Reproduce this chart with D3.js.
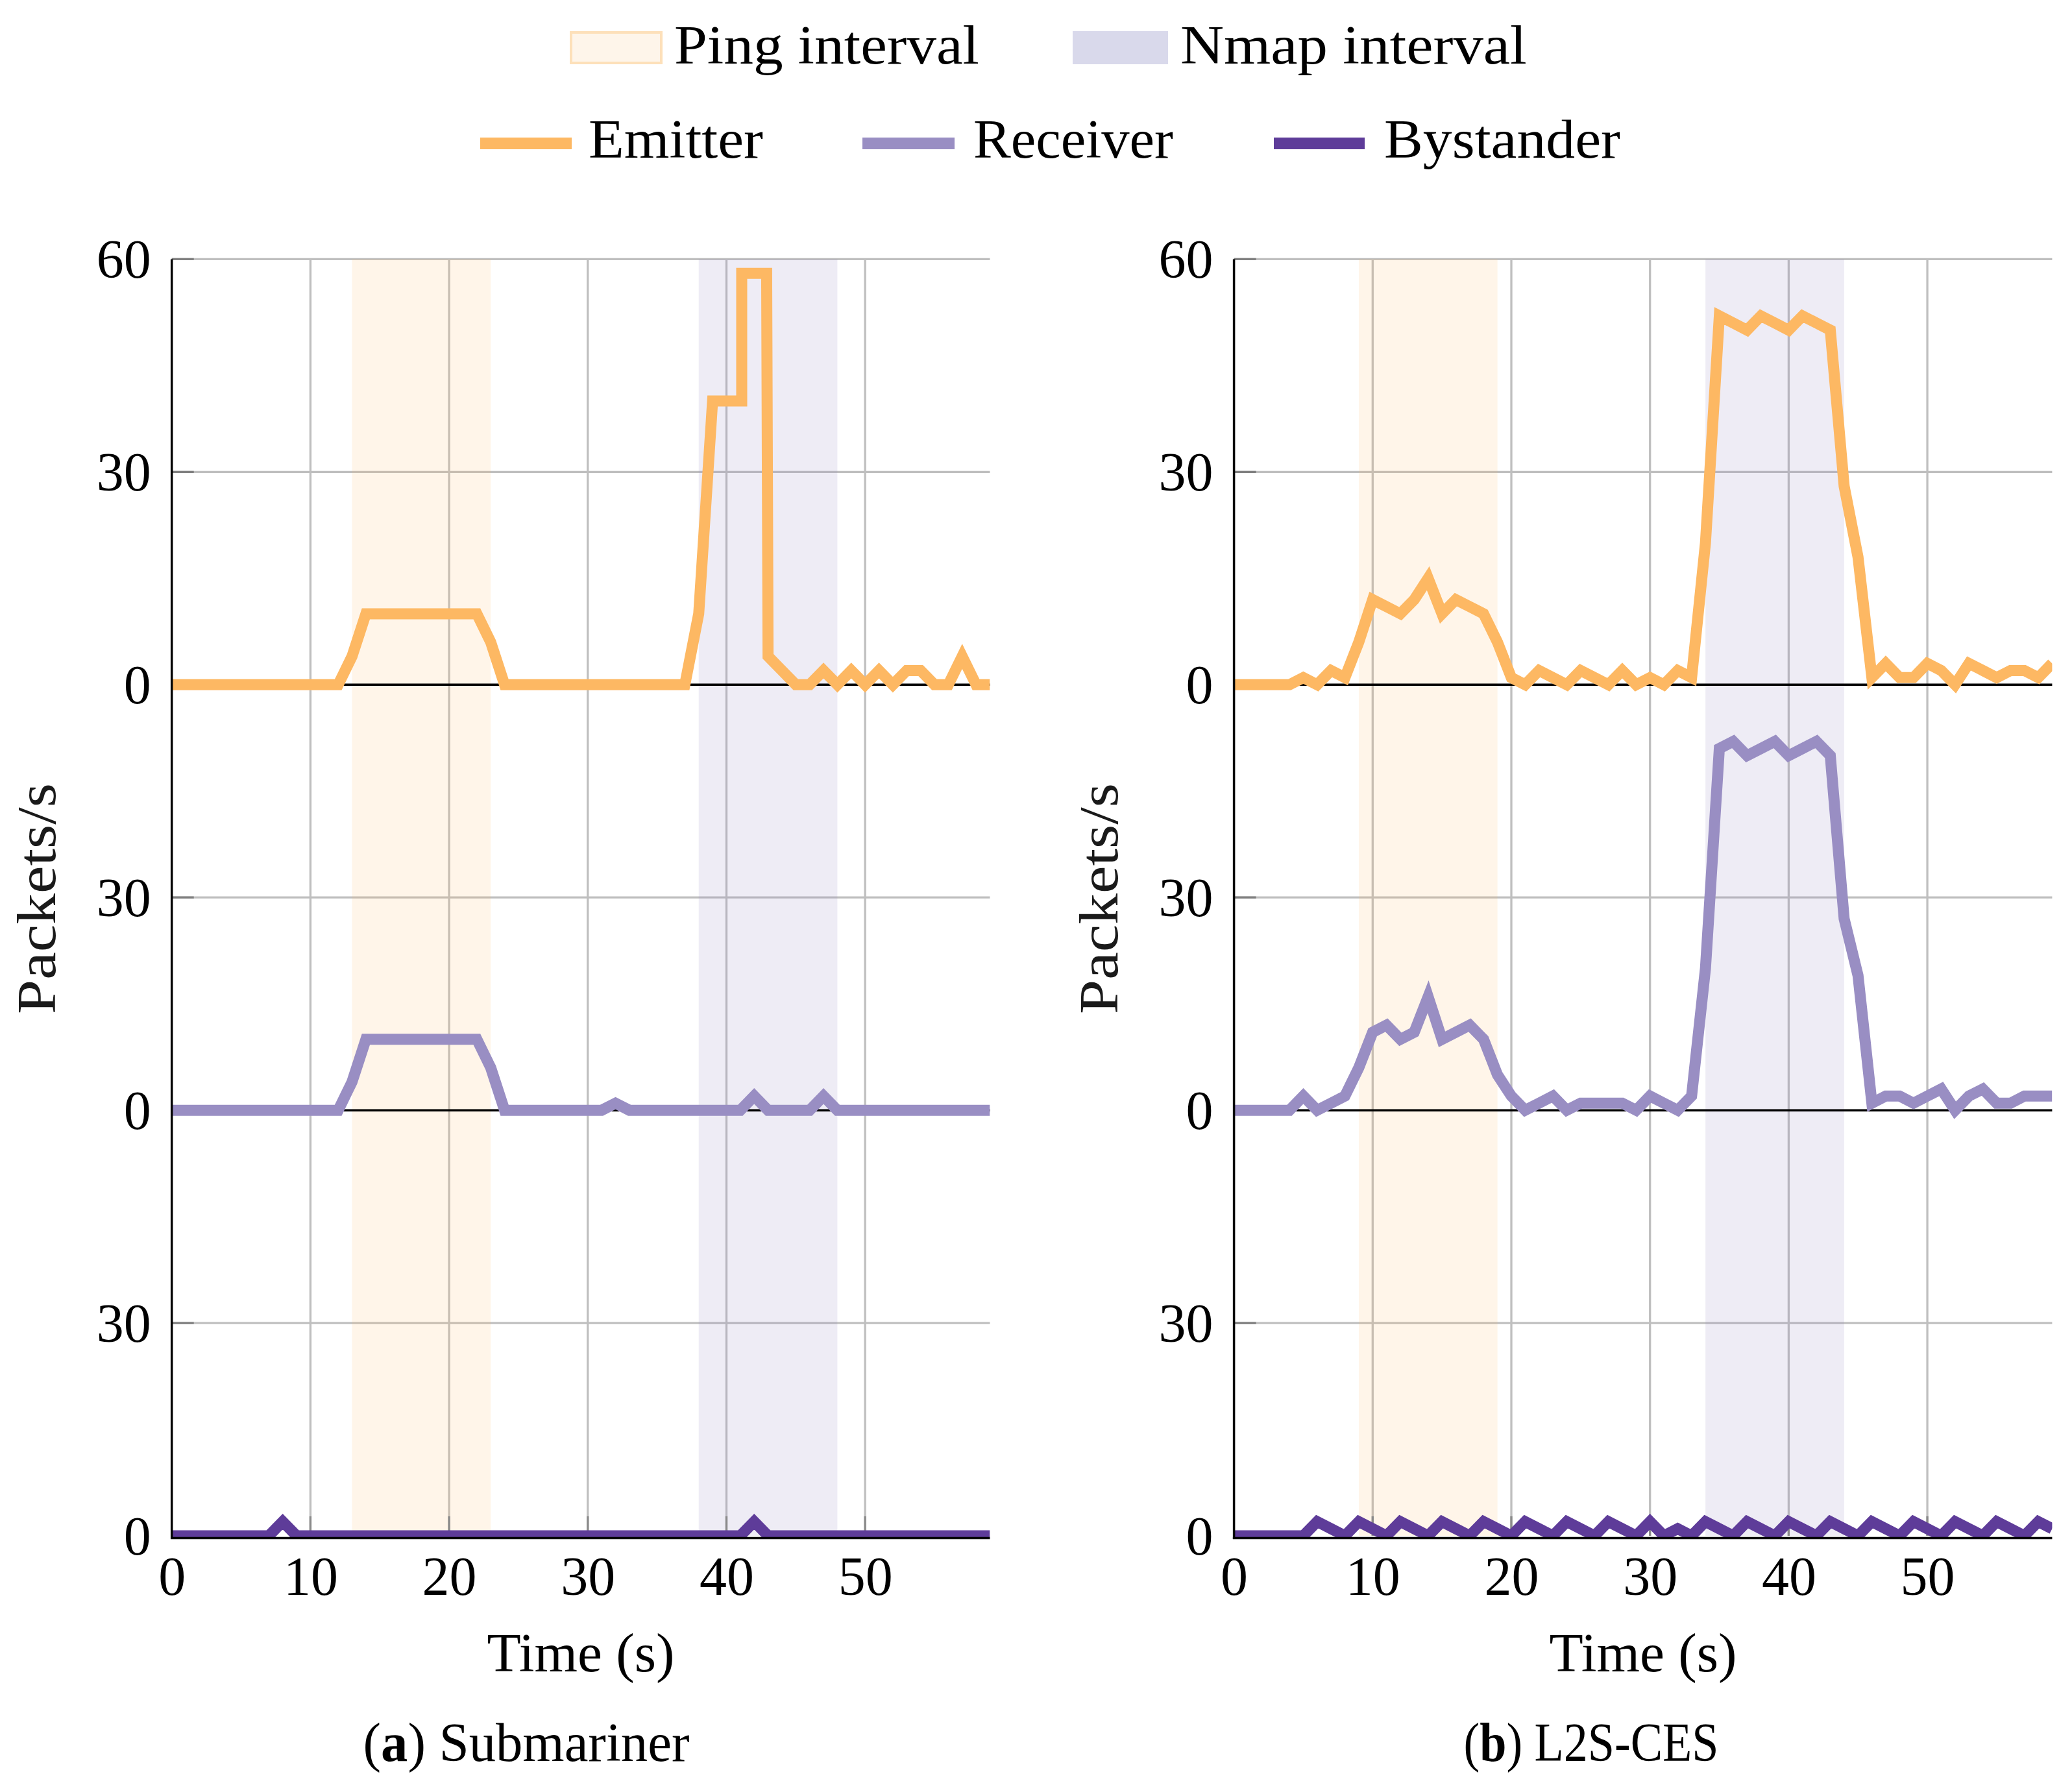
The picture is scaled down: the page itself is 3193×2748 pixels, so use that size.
<!DOCTYPE html>
<html><head><meta charset="utf-8">
<script src="https://cdn.jsdelivr.net/npm/d3@7/dist/d3.min.js"></script>
<style>body{margin:0;background:#fff}svg{display:block}</style>
</head><body>
<svg id="chart" width="3193" height="2748"></svg>
<script>
// ---------------- data ----------------
const seconds = [0,1,2,3,4,5,6,7,8,9,10,11,12,13,14,15,16,17,18,19,20,21,22,23,24,25,26,27,28,29,
                 30,31,32,33,34,35,36,37,38,39,40,41,42,43,44,45,46,47,48,49,50,51,52,53,54,55,56,57,58,59];

// (a) Submariner
const emitterATimes = [0,1,2,3,4,5,6,7,8,9,10,11,12,13,14,15,16,17,18,19,20,21,22,23,24,25,26,27,28,29,
                       30,31,32,33,34,35,36,37,38,39,40,41.1,41.1,42.9,43,44,45,46,47,48,49,50,51,52,53,54,55,56,57,58,59];
const emitterAValues = [0,0,0,0,0,0,0,0,0,0,0,0,0,4,10,10,10,10,10,10,10,10,10,6,0,0,0,0,0,0,
                        0,0,0,0,0,0,0,0,10,40,40,40,58,58,4,2,0,0,2,0,2,0,2,0,2,2,0,0,4,0,0];
const receiverAValues = [0,0,0,0,0,0,0,0,0,0,0,0,0,4,10,10,10,10,10,10,10,10,10,6,0,0,0,0,0,0,
                         0,0,1,0,0,0,0,0,0,0,0,0,2,0,0,0,0,2,0,0,0,0,0,0,0,0,0,0,0,0];
const bystanderAValues = [0,0,0,0,0,0,0,0,2,0,0,0,0,0,0,0,0,0,0,0,0,0,0,0,0,0,0,0,0,0,
                          0,0,0,0,0,0,0,0,0,0,0,0,2,0,0,0,0,0,0,0,0,0,0,0,0,0,0,0,0,0];
const pingA = [13, 23];
const nmapA = [38, 48];

// (b) L2S-CES
const emitterBValues = [0,0,0,0,0,1,0,2,1,6, 12,11,10,12,15,10,12,11,10,6, 1,0,2,1,0,2,1,0,2,0,
                        1,0,2,1,20,52,51,50,52,51, 50,52,51,50,28,18,1,3,1,1, 3,2,0,3,2,1,2,2,1,3];
const receiverBValues = [0,0,0,0,0,2,0,1,2,6, 11,12,10,11,16,10,11,12,10,5, 2,0,1,2,0,1,1,1,1,0,
                         2,1,0,2,20,51,52,50,51,52, 50,51,52,50,27,19,1,2,2,1, 2,3,0,2,3,1,1,2,2,2];
const bystanderBValues = [0,0,0,0,0,0,2,1,0,2, 1,0,2,1,0,2,1,0,2,1, 0,2,1,0,2,1,0,2,1,0,
                          2,0,1,0,2,1,0,2,1,0, 2,1,0,2,1,0,2,1,0,2, 1,0,2,1,0,2,1,0,2,1];
const pingB = [9, 19];
const nmapB = [34, 44];

const seriesNames = ["Emitter", "Receiver", "Bystander"];
const seriesOffsets = [120, 60, 0];           // stacked bands of 60 packets/s
const yTickValues = [0, 30, 60, 90, 120, 150, 180];
const yTickLabels = ["0", "30", "0", "30", "0", "30", "60"];
const xTickValues = [0, 10, 20, 30, 40, 50];
const intervalNames = ["Ping interval", "Nmap interval"];
const captions = [["a", "Submariner"], ["b", "L2S-CES"]];

// ---------------- styles ----------------
const colors = ["#fdb863", "#998ec3", "#5e3c99"];
const pingColor = "#fdb863", nmapColor = "#998ec3";
const FONT = "'Liberation Serif','Times New Roman',serif";
const FS = 84;

const svg = d3.select("#chart");
svg.append("rect").attr("width", 3193).attr("height", 2748).attr("fill", "#fff");

const yTop = 399.4, yBot = 2367;
const y = d3.scaleLinear().domain([0, 180]).range([yBot, yTop]);

function fitWidth(textSel, target) {
  const node = textSel.node();
  const w = node.getBBox().width;
  const s = target / w;
  const cur = textSel.attr("transform") || "";
  textSel.attr("transform", cur + ` scale(${s},1)`);
}

const panels = [
  {x0: 264.7, times: [emitterATimes, seconds, seconds], values: [emitterAValues, receiverAValues, bystanderAValues],
   ping: pingA, nmap: nmapA, cap: captions[0], capX: 811, capW: 503, titleX: 895, ylabX: 85},
  {x0: 1901.6, times: [seconds, seconds, seconds], values: [emitterBValues, receiverBValues, bystanderBValues],
   ping: pingB, nmap: nmapB, cap: captions[1], capX: 2452, capW: 393, titleX: 2532, ylabX: 1722}
];

panels.forEach((p, pi) => {
  const x = d3.scaleLinear().domain([0, 59]).range([p.x0, p.x0 + 1260.8]);
  const g = svg.append("g");

  // gridlines
  [30, 90, 150, 180].forEach(v => {
    g.append("line").attr("x1", x(0)).attr("x2", x(59)).attr("y1", y(v)).attr("y2", y(v))
      .attr("stroke", "#bfbfbf").attr("stroke-width", 3.3);
  });
  xTickValues.filter(v => v > 0).forEach(v => {
    g.append("line").attr("x1", x(v)).attr("x2", x(v)).attr("y1", y(180)).attr("y2", y(0))
      .attr("stroke", "#bfbfbf").attr("stroke-width", 3.3);
  });

  // interval shading
  g.append("rect").attr("x", x(p.ping[0])).attr("width", x(p.ping[1]) - x(p.ping[0]))
    .attr("y", y(180)).attr("height", y(0) - y(180)).attr("fill", pingColor).attr("fill-opacity", 0.14);
  g.append("rect").attr("x", x(p.nmap[0])).attr("width", x(p.nmap[1]) - x(p.nmap[0]))
    .attr("y", y(180)).attr("height", y(0) - y(180)).attr("fill", nmapColor).attr("fill-opacity", 0.17);

  // tick marks (inside)
  [30, 90, 150, 180].forEach(v => {
    g.append("line").attr("x1", x(0)).attr("x2", x(0) + 34).attr("y1", y(v)).attr("y2", y(v))
      .attr("stroke", "#808080").attr("stroke-width", 3.3);
  });
  xTickValues.filter(v => v > 0).forEach(v => {
    g.append("line").attr("x1", x(v)).attr("x2", x(v)).attr("y1", y(0)).attr("y2", y(0) - 30)
      .attr("stroke", "#8a8a8a").attr("stroke-width", 3.3);
  });

  // zero lines of the upper bands
  [60, 120].forEach(v => {
    g.append("line").attr("x1", x(0)).attr("x2", x(59)).attr("y1", y(v)).attr("y2", y(v))
      .attr("stroke", "#000").attr("stroke-width", 3.5);
  });

  // clip
  const clipId = "clip" + pi;
  svg.append("clipPath").attr("id", clipId).append("rect")
    .attr("x", x(0)).attr("y", y(180) - 40).attr("width", x(59) - x(0)).attr("height", y(0) + 2 - (y(180) - 40));

  const lg = g.append("g").attr("clip-path", `url(#${clipId})`);
  seriesNames.forEach((name, si) => {
    const pts = p.values[si].map((v, i) => ({t: p.times[si][i], v: v}));
    const line = d3.line().x(d => x(d.t)).y(d => y(d.v + seriesOffsets[si]));
    lg.append("path").attr("d", line(pts)).attr("fill", "none")
      .attr("stroke", colors[si]).attr("stroke-width", 17)
      .attr("stroke-linejoin", "miter").attr("stroke-miterlimit", 10).attr("stroke-linecap", "butt");
  });

  // axis lines
  g.append("line").attr("x1", x(0)).attr("x2", x(0)).attr("y1", y(180)).attr("y2", y(0) + 5)
    .attr("stroke", "#000").attr("stroke-width", 3.5);
  g.append("line").attr("x1", x(0) - 1.7).attr("x2", x(59)).attr("y1", y(0) + 3.5).attr("y2", y(0) + 3.5)
    .attr("stroke", "#000").attr("stroke-width", 3.5);

  // tick labels via d3 axes
  const yAxis = d3.axisLeft(y).tickValues(yTickValues).tickFormat((d, i) => yTickLabels[i]).tickSize(0).tickPadding(32);
  const ya = g.append("g").attr("transform", `translate(${x(0)},0)`).call(yAxis);
  ya.select(".domain").remove();
  ya.selectAll("text").attr("font-family", FONT).attr("font-size", FS).attr("fill", "#000").attr("dy", "0.34em");

  const xAxis = d3.axisBottom(x).tickValues(xTickValues).tickFormat(d3.format("d")).tickSize(0).tickPadding(31);
  const xa = g.append("g").attr("transform", `translate(0,${y(0)})`).call(xAxis);
  xa.select(".domain").remove();
  xa.selectAll("text").attr("font-family", FONT).attr("font-size", FS).attr("fill", "#000");

  // axis titles
  const xt = g.append("text").attr("x", 0).attr("y", 0).attr("transform", `translate(${p.titleX},2576)`)
    .attr("text-anchor", "middle").attr("font-family", FONT).attr("font-size", FS).text("Time (s)");
  fitWidth(xt, 289);
  const yt = g.append("text").attr("x", 0).attr("y", 0).attr("transform", `translate(${p.ylabX},1385) rotate(-90)`)
    .attr("text-anchor", "middle").attr("font-family", FONT).attr("font-size", FS).attr("fill", "#1a1a1a").text("Packets/s");
  fitWidth(yt, 356);

  // caption
  const ct = g.append("text").attr("x", 0).attr("y", 0).attr("transform", `translate(${p.capX},2714)`)
    .attr("text-anchor", "middle").attr("font-family", FONT).attr("font-size", FS);
  ct.append("tspan").text("(");
  ct.append("tspan").attr("font-weight", "bold").text(p.cap[0]);
  ct.append("tspan").text(") " + p.cap[1]);
  fitWidth(ct, p.capW);
});

// ---------------- legend ----------------
const leg = svg.append("g");
leg.append("rect").attr("x", 880).attr("y", 50).attr("width", 139).attr("height", 47)
  .attr("fill", "#fef5ea").attr("stroke", "#fde0ba").attr("stroke-width", 4);
leg.append("rect").attr("x", 1653).attr("y", 48).attr("width", 147).attr("height", 51)
  .attr("fill", "#d9d9eb");
const legText = [
  {t: intervalNames[0], x: 1039, y: 98, w: 470},
  {t: intervalNames[1], x: 1819, y: 98, w: 534},
  {t: seriesNames[0], x: 907, y: 243, w: 269},
  {t: seriesNames[1], x: 1500, y: 243, w: 308},
  {t: seriesNames[2], x: 2133, y: 243, w: 364}
];
const lineSw = [[740, 881], [1329, 1471], [1963, 2103]];
lineSw.forEach((s, i) => {
  leg.append("line").attr("x1", s[0]).attr("x2", s[1]).attr("y1", 221).attr("y2", 221)
    .attr("stroke", colors[i]).attr("stroke-width", 18);
});
legText.forEach(d => {
  const t = leg.append("text").attr("x", 0).attr("y", 0).attr("transform", `translate(${d.x},${d.y})`)
    .attr("font-family", FONT).attr("font-size", FS).text(d.t);
  fitWidth(t, d.w);
});
</script>
</body></html>
